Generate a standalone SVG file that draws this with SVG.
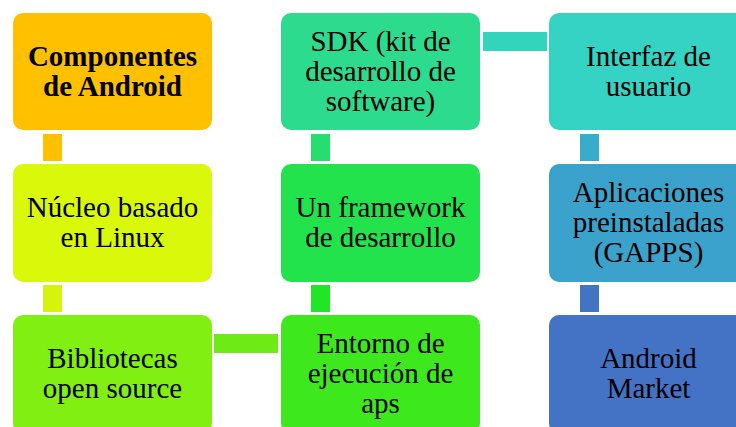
<svg xmlns="http://www.w3.org/2000/svg" width="736" height="427" viewBox="0 0 736 427">
<style>
.n{stroke:none}
.t text{font-size:29px;fill:#000;text-anchor:middle}
.b{font-weight:bold}
</style>
<rect width="736" height="427" fill="#fff"/>
<g id="connectors">
<rect x="43" y="134" width="19" height="27" fill="#FFC000"/>
<rect x="43" y="285" width="19" height="27" fill="#D6F40B"/>
<rect x="214" y="334" width="64" height="19" fill="#6EEB16"/>
<rect x="311" y="285" width="19" height="27" fill="#20E626"/>
<rect x="311" y="134" width="19" height="27" fill="#26DE70"/>
<rect x="483" y="32" width="64" height="19" fill="#32D4BC"/>
<rect x="580" y="134" width="19" height="27" fill="#38ADCB"/>
<rect x="580" y="285" width="19" height="27" fill="#4274C4"/>
</g>
<g class="t">
<g id="n1"><rect class="n" x="13" y="13" width="199" height="117" rx="10" fill="#FFC000"/>
<text font-family="Tinos" class="b" x="112.5" y="65.5">Componentes</text><text font-family="Tinos" class="b" x="112.5" y="95.5">de Android</text></g>
<g id="n2"><rect class="n" x="13" y="164" width="199" height="118" rx="10" fill="#DAF80A"/>
<text font-family="Tinos" x="112.5" y="217">Núcleo basado</text><text font-family="Tinos" x="112.5" y="247">en Linux</text></g>
<g id="n3"><rect class="n" x="13" y="315" width="199" height="118" rx="10" fill="#82EF13"/>
<text font-family="Tinos" x="112.5" y="368">Bibliotecas</text><text font-family="Tinos" x="112.5" y="398">open source</text></g>
<g id="n4"><rect class="n" x="281" y="315" width="199" height="118" rx="10" fill="#3DE91C"/>
<text font-family="Tinos" x="380.5" y="352.5">Entorno de</text><text font-family="Tinos" x="380.5" y="382.5">ejecución de</text><text font-family="Tinos" x="380.5" y="412.5">aps</text></g>
<g id="n5"><rect class="n" x="281" y="164" width="199" height="118" rx="10" fill="#22E34C"/>
<text font-family="Tinos" x="380.5" y="217">Un framework</text><text font-family="Tinos" x="380.5" y="247">de desarrollo</text></g>
<g id="n6"><rect class="n" x="281" y="13" width="199" height="117" rx="10" fill="#2DDB8F"/>
<text font-family="Tinos" x="380.5" y="50.5">SDK (kit de</text><text font-family="Tinos" x="380.5" y="80.5">desarrollo de</text><text font-family="Tinos" x="380.5" y="110.5">software)</text></g>
<g id="n7"><rect class="n" x="549" y="13" width="199" height="117" rx="10" fill="#34D3C4"/>
<text font-family="Tinos" x="648.5" y="65.5">Interfaz de</text><text font-family="Tinos" x="648.5" y="95.5">usuario</text></g>
<g id="n8"><rect class="n" x="549" y="164" width="199" height="118" rx="10" fill="#3BA3CB"/>
<text font-family="Tinos" x="648.5" y="202">Aplicaciones</text><text font-family="Tinos" x="648.5" y="232">preinstaladas</text><text font-family="Tinos" x="648.5" y="262">(GAPPS)</text></g>
<g id="n9"><rect class="n" x="549" y="315" width="199" height="118" rx="10" fill="#4472C4"/>
<text font-family="Tinos" x="648.5" y="368">Android</text><text font-family="Tinos" x="648.5" y="398">Market</text></g>
</g>
</svg>
